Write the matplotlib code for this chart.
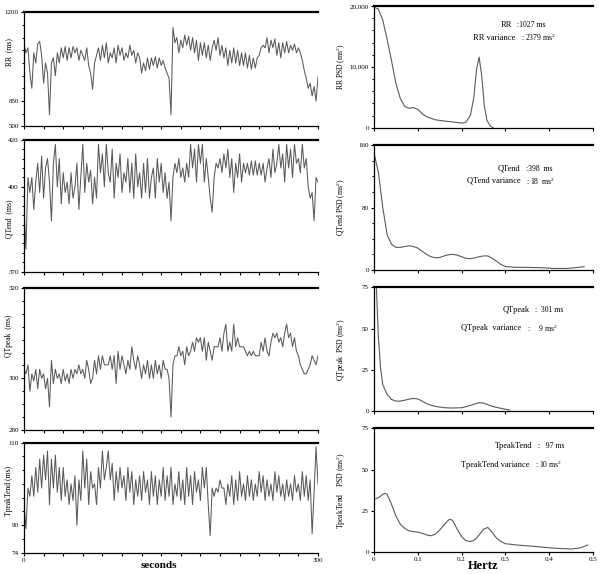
import matplotlib
matplotlib.use("Agg")
import matplotlib.pyplot as plt
import numpy as np

plt.rcParams["font.family"] = ["Liberation Serif", "DejaVu Serif"]
plt.rcParams["mathtext.fontset"] = "custom"
plt.rcParams["mathtext.rm"] = "Liberation Serif"

# ---- time series (2 s sampling, 0..300 s) ----
SECONDS = np.arange(0, 301, 2)

RR = [1075, 1040, 1060, 960, 900, 1040, 1000, 1075, 1085, 1030, 920, 1000, 960, 660, 1000,
      1020, 950, 1040, 1000, 1060, 1020, 1065, 1010, 1060, 1020, 1065, 1040, 1060, 1010, 1050,
      1030, 1010, 1060, 990, 960, 896, 1000, 1030, 1060, 1010, 1070, 1020, 1080, 1000, 1040,
      1020, 1060, 1000, 1070, 1030, 1060, 1010, 1040, 1020, 1070, 1030, 1050, 1000, 1040, 1020,
      960, 1000, 970, 1020, 975, 1020, 990, 1025, 980, 1020, 990, 1010, 980, 960, 940,
      660, 1140, 1080, 1100, 1040, 1090, 1060, 1110, 1070, 1105, 1050, 1100, 1040, 1090, 1010,
      1080, 1030, 1080, 1020, 1070, 1010, 1060, 1090, 1050, 1100, 1030, 1070, 1020, 1060, 990,
      1050, 1000, 1060, 1000, 1050, 990, 1040, 990, 1040, 980, 1030, 975, 1020, 980, 1020,
      1030, 1060, 1070, 1060, 1100, 1040, 1090, 1060, 1095, 1030, 1080, 1020, 1080, 1040, 1085,
      1040, 1070, 1050, 1075, 1040, 1060, 1040, 1010, 970, 940, 900, 920, 870, 907, 850, 946]

QTEND = [392, 378, 404, 398, 404, 392, 402, 410, 398, 413, 396, 408, 412, 402, 388,
         410, 418, 400, 412, 394, 406, 398, 402, 394, 406, 396, 400, 410, 392, 404,
         418, 398, 410, 402, 407, 394, 404, 396, 418, 406, 414, 400, 418, 406, 402,
         416, 396, 410, 404, 414, 398, 406, 402, 412, 398, 410, 396, 414, 400, 406,
         396, 410, 398, 412, 396, 404, 408, 396, 412, 402, 410, 398, 406, 396, 402,
         388, 404, 410, 406, 412, 404, 408, 402, 410, 404, 418, 408, 416, 402, 418,
         410, 418, 402, 412, 404, 396, 391, 404, 410, 408, 412, 406, 414, 408, 416,
         404, 412, 398, 410, 404, 414, 402, 410, 406, 410, 405, 411, 405, 411, 405,
         410, 405, 410, 402, 408, 412, 404, 416, 406, 410, 418, 408, 414, 402, 418,
         408, 416, 404, 418, 410, 412, 406, 418, 408, 412, 400, 396, 398, 388, 404, 402]

QTPEAK = [302, 301, 303, 295, 301, 299, 302, 296, 302, 300, 301, 296, 300, 289, 304,
          298, 302, 300, 301, 298, 302, 299, 301, 298, 302, 300, 302, 301, 303, 301,
          302, 300, 304, 302, 298, 300, 304, 301, 305, 302, 305, 303, 303, 303, 305,
          302, 305, 298, 306, 302, 305, 303, 301, 304, 302, 307, 304, 302, 305, 303,
          300, 303, 301, 304, 300, 303, 300, 304, 301, 303, 300, 304, 302, 302, 300,
          285, 303, 305, 305, 307, 305, 306, 303, 307, 305, 306, 308, 306, 309, 308,
          309, 306, 309, 304, 308, 306, 304, 307, 307, 307, 309, 306, 310, 312, 306,
          308, 306, 312, 307, 309, 307, 307, 307, 306, 305, 306, 305, 306, 305, 305,
          305, 308, 306, 309, 306, 305, 308, 310, 309, 310, 308, 309, 307, 310, 312,
          309, 310, 307, 309, 306, 305, 303, 302, 301, 301, 302, 303, 305, 304, 303, 305]

TPEAKTEND = [95, 88, 99, 97, 102, 97, 104, 98, 106, 99, 107, 101, 108, 95, 106,
             99, 107, 98, 104, 96, 104, 97, 101, 95, 100, 96, 102, 90, 101, 96,
             108, 99, 106, 95, 103, 99, 100, 95, 104, 99, 108, 101, 104, 108, 101,
             105, 96, 103, 98, 104, 99, 102, 96, 104, 98, 103, 95, 101, 97, 102,
             96, 103, 98, 101, 95, 103, 97, 102, 95, 101, 97, 104, 96, 102, 97,
             104, 95, 100, 97, 103, 96, 101, 95, 104, 97, 102, 95, 103, 98, 101,
             96, 104, 99, 104, 95, 84, 99, 97, 99, 98, 101, 99, 99, 95, 100,
             97, 102, 95, 101, 96, 103, 97, 100, 96, 102, 97, 101, 96, 100, 97,
             103, 98, 102, 96, 101, 97, 100, 96, 103, 98, 102, 97, 100, 96, 101,
             97, 100, 96, 102, 98, 100, 96, 103, 97, 102, 96, 101, 85, 98, 109, 100]

# ---- power spectral densities ----
RR_PSD_F = [0, 0.01, 0.02, 0.03, 0.04, 0.05, 0.06, 0.07, 0.08, 0.09, 0.10, 0.11, 0.12, 0.14,
            0.16, 0.18, 0.20, 0.21, 0.22, 0.228, 0.234, 0.24, 0.246, 0.252, 0.258, 0.265, 0.272]
RR_PSD = [19800, 19500, 17700, 14500, 11000, 7300, 4800, 3500, 3200, 3300, 3000, 2300, 1800, 1300,
          1100, 950, 750, 900, 2000, 5000, 9500, 11600, 8500, 3500, 1200, 300, 0]

QTEND_PSD_F = [0.002, 0.01, 0.02, 0.03, 0.04, 0.05, 0.06, 0.07, 0.08, 0.09, 0.10, 0.11, 0.12,
               0.13, 0.14, 0.15, 0.16, 0.17, 0.18, 0.19, 0.20, 0.21, 0.22, 0.23, 0.24, 0.25,
               0.26, 0.27, 0.28, 0.29, 0.30, 0.32, 0.35, 0.38, 0.41, 0.44, 0.46, 0.48]
QTEND_PSD = [145, 125, 80, 45, 33, 29, 29, 30, 31, 30, 28, 24, 20,
             17, 15.5, 16, 18, 19.5, 20, 19, 17, 15, 14.5, 15.5, 17, 18,
             18, 15, 11, 7, 4.5, 3.5, 3.3, 3, 2, 2, 3, 4.3]

QTPEAK_PSD_F = [0, 0.005, 0.01, 0.015, 0.02, 0.03, 0.04, 0.05, 0.06, 0.07, 0.08, 0.09, 0.10,
                0.11, 0.12, 0.13, 0.14, 0.16, 0.18, 0.20, 0.21, 0.22, 0.23, 0.24, 0.25, 0.26,
                0.27, 0.29, 0.31]
QTPEAK_PSD = [110, 78, 45, 26, 16, 10, 7, 6, 6, 6.5, 7.2, 7.6, 7.3,
              6, 4.5, 3.5, 2.8, 2, 1.8, 2, 2.6, 3.4, 4.3, 5, 4.8, 3.8,
              2.8, 1.6, 0.6]

TPT_PSD_F = [0, 0.01, 0.02, 0.025, 0.03, 0.04, 0.05, 0.06, 0.07, 0.08, 0.09, 0.10, 0.11, 0.12,
             0.13, 0.14, 0.15, 0.16, 0.17, 0.175, 0.18, 0.19, 0.20, 0.21, 0.22, 0.23, 0.24,
             0.25, 0.26, 0.27, 0.28, 0.29, 0.30, 0.33, 0.37, 0.41, 0.45, 0.47, 0.488]
TPT_PSD = [32, 33, 35, 35.7, 35, 29, 22, 17, 14.5, 13, 12.5, 12.2, 11.5, 10.5,
           10, 11, 13.5, 16.5, 19.5, 20, 19, 14, 9.5, 7, 6.5, 7.5, 10.5,
           14, 15, 12, 8.5, 6.5, 5.2, 4.3, 3.5, 2.5, 2, 2.6, 4.4]

LINE = "#5a5a5a"
TICK_FS = 5


def piecewise_scale(lo, mid, hi, n_lo, n_hi):
    """Broken-looking axis: [lo, mid] takes n_lo tick steps, [mid, hi] takes n_hi."""
    s_lo = (mid - lo) / n_lo
    s_hi = (hi - mid) / n_hi

    def fwd(y):
        y = np.asarray(y, dtype=float)
        return np.where(y >= mid, (y - mid) / s_hi, (y - mid) / s_lo)

    def inv(u):
        u = np.asarray(u, dtype=float)
        return np.where(u >= 0, mid + u * s_hi, mid + u * s_lo)

    return fwd, inv


def style_axes(ax):
    ax.spines["right"].set_visible(False)
    ax.spines["top"].set_linewidth(1.6)
    ax.spines["left"].set_linewidth(0.9)
    ax.spines["bottom"].set_linewidth(0.9)
    ax.tick_params(direction="out", length=2.5, width=0.8, labelsize=TICK_FS, pad=1.2)
    ax.tick_params(which="minor", direction="out", length=1.8, width=0.7)
    ax.tick_params(axis="x", which="both", top=False)
    ax.tick_params(axis="y", which="both", right=False)


fig = plt.figure(figsize=(6.0, 5.74), dpi=100)
W, H = 600.0, 574.0


def add_axes(x0, x1, y0, y1):
    return fig.add_axes([x0 / W, 1 - y1 / H, (x1 - x0) / W, (y1 - y0) / H])


# ---- left column: beat-to-beat series ----
left_specs = [
    (RR, "RR  (ms)", (500, 850, 1200), (2, 7), (12.3, 126.3), 0.65),
    (QTEND, "QTend  (ms)", (370, 400, 420), (9, 5), (139.7, 271.7), 0.40),
    (QTPEAK, "QTpeak  (ms)", (280, 300, 320), (4, 7), (288.0, 430.0), 0.66),
    (TPEAKTEND, "TpeakTend (ms)", (74, 90, 110), (2, 6), (442.7, 552.7), 0.56),
]

for i, (vals, label, (lo, mid, hi), (n_lo, n_hi), (ya, yb), label_y) in enumerate(left_specs):
    ax = add_axes(24, 318, ya, yb)
    fwd, inv = piecewise_scale(lo, mid, hi, n_lo, n_hi)
    ax.set_yscale("function", functions=(fwd, inv))
    ax.plot(SECONDS, vals, color=LINE, lw=0.75)
    ax.set_xlim(0, 300)
    ax.set_ylim(lo, hi)
    ax.set_yticks([lo, mid, hi])
    ax.set_yticklabels([str(lo), str(mid), str(hi)])
    ax.set_yticks(inv(np.arange(-n_lo, n_hi + 1)), minor=True)
    ax.set_xticks(np.arange(0, 301, 20))
    ax.set_xticklabels([])
    ax.set_ylabel(label, fontsize=5.5)
    ax.yaxis.set_label_coords(-0.038, label_y)
    style_axes(ax)
    if i == 3:
        ax.set_xticks([0, 300])
        ax.set_xticklabels(["0", "300"])
        ax.set_xticks(np.arange(0, 301, 20), minor=True)
        ax.tick_params(axis="x", which="minor", length=2.5, width=0.8)
        ax.set_xlabel("seconds", fontsize=8, fontweight="bold")
        ax.xaxis.set_label_coords(0.46, -0.075)

# ---- right column: spectra ----
right_specs = [
    (RR_PSD_F, RR_PSD, "RR PSD (ms$^2$)", 20000, [0, 10000, 20000], ["0", "10,000", "20,000"],
     np.arange(0, 20001, 2000), (6.0, 127.7),
     [("RR", ":1027 ms", 0.63, 0.84), ("RR variance", ": 2379 ms$^2$", 0.644, 0.74)]),
    (QTEND_PSD_F, QTEND_PSD, "QTend PSD (ms$^2$)", 160, [0, 80, 160], ["0", "80", "160"],
     np.arange(0, 161, 20), (145.0, 270.0),
     [("QTend", ":398  ms", 0.667, 0.81), ("QTend variance", ": 18  ms$^2$", 0.67, 0.712)]),
    (QTPEAK_PSD_F, QTPEAK_PSD, "QTpeak  PSD (ms$^2$)", 75, [0, 25, 50, 75], ["0", "25", "50", "75"],
     None, (287.3, 411.0),
     [("QTpeak", ":  301 ms", 0.712, 0.815), ("QTpeak  variance", ":     9 ms$^2$", 0.674, 0.672)]),
    (TPT_PSD_F, TPT_PSD, "TpeakTend    PSD (ms$^2$)", 75, [0, 25, 50, 75], ["0", "25", "50", "75"],
     None, (428.3, 552.3),
     [("TpeakTend", ":   97 ms", 0.726, 0.855), ("TpeakTend variance", ": 10 ms$^2$", 0.712, 0.707)]),
]

for i, (f, p, label, top, yt, ytl, minor, (ya, yb), notes) in enumerate(right_specs):
    ax = add_axes(374, 593, ya, yb)
    ax.plot(f, p, color=LINE, lw=0.8)
    ax.set_xlim(0, 0.5)
    ax.set_ylim(0, top)
    ax.set_yticks(yt)
    ax.set_yticklabels(ytl)
    if minor is not None:
        ax.set_yticks(minor, minor=True)
    ax.set_xticks(np.arange(0, 0.51, 0.1))
    ax.set_ylabel(label, fontsize=5.5)
    ax.yaxis.set_label_coords(-0.118, 0.5)
    style_axes(ax)
    if i == 3:
        ax.set_xticklabels(["0", "0.1", "0.2", "0.3", "0.4", "0.5"])
        ax.set_xlabel("Hertz", fontsize=9, fontweight="bold")
        ax.xaxis.set_label_coords(0.5, -0.065)
    else:
        ax.set_xticklabels([])
    for name, value, xr, yr in notes:
        ax.text(xr, yr, name, transform=ax.transAxes, ha="right", va="center", fontsize=6)
        ax.text(xr + 0.025, yr, value, transform=ax.transAxes, ha="left", va="center", fontsize=5.5)

fig.savefig("out.png", dpi=100, facecolor="white")
